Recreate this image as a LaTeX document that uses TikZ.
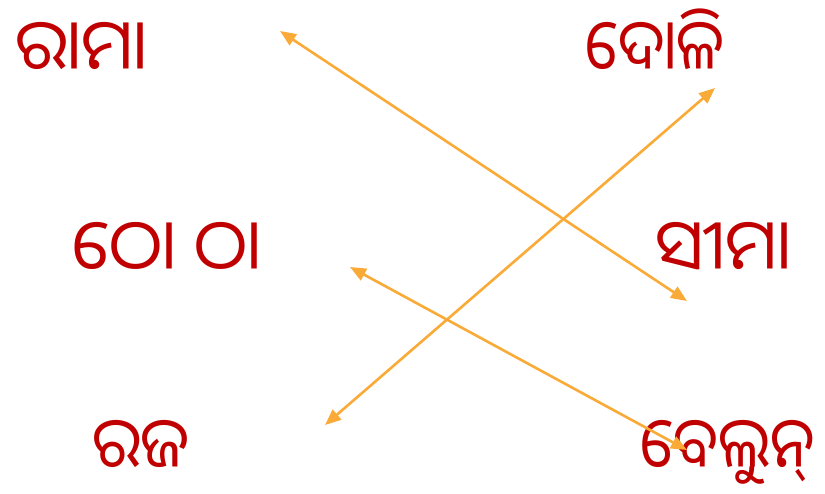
\documentclass[tikz,border=0pt]{standalone}
\usepackage{fontspec}
\newfontfamily\oriyafont[Script=Oriya]{Noto Sans Oriya UI}
\usetikzlibrary{arrows.meta}
\definecolor{wordred}{RGB}{192,0,0}
\definecolor{linkorange}{RGB}{250,170,55}

\begin{document}
\begin{tikzpicture}[
    x=1pt, y=-1pt,
    word/.style={anchor=base west, inner sep=0pt, text=wordred, font=\oriyafont\fontsize{70}{70}\selectfont},
    link/.style={{Triangle[length=16pt,width=13pt]}-{Triangle[length=16pt,width=13pt]}, line width=2.6pt, linkorange}
]
\useasboundingbox (0,0) rectangle (825,494);

% === Left column ===
\node[word] (rama) at (15,76) {ରାମା};
\node[word] (thotha) at (72,276) {ଠୋ ଠା};
\node[word] (raja) at (92,473) {\scalebox{0.93}[1]{ରଜ}};

% === Right column ===
\node[word] (doli) at (585,76) {\scalebox{0.88}[1]{ଦୋଳି}};
\node[word] (sima) at (655,276) {ସୀମା};
\node[word] (belun) at (640,473) {\scalebox{0.89}[1]{ବେଲୁନ୍}};

% === Arrow ends ===
\coordinate (a1) at (280,31);
\coordinate (b1) at (687,301);
\coordinate (a2) at (715,88);
\coordinate (b2) at (325,425);
\coordinate (a3) at (350,267);
\coordinate (b3) at (687,450);

% === Links ===
\draw[link] (a1) -- (b1);
\draw[link] (a2) -- (b2);
\draw[link] (a3) -- (b3);

\end{tikzpicture}
\end{document}
